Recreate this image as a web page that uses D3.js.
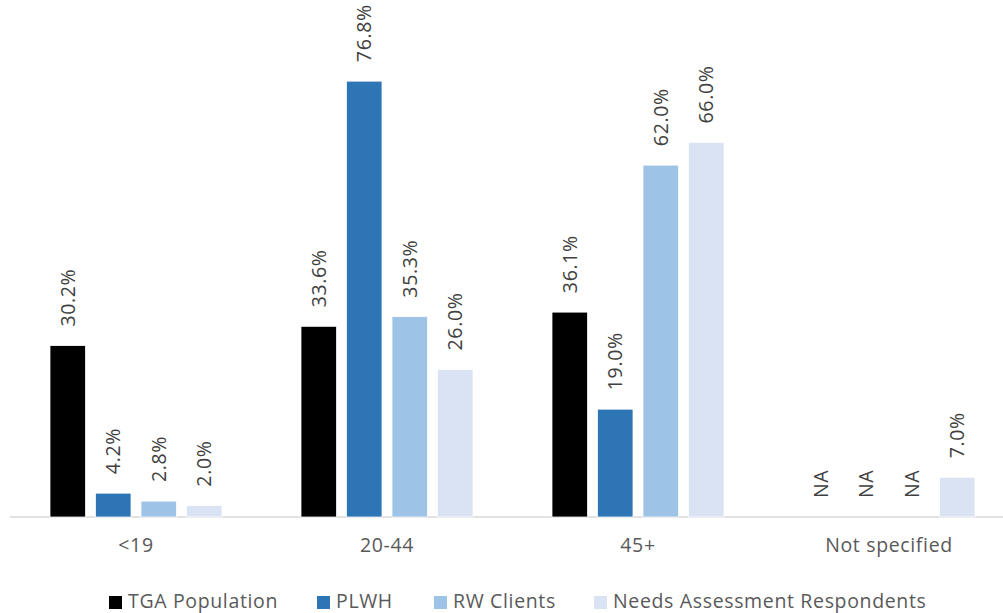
<!DOCTYPE html>
<html>
<head>
<meta charset="utf-8">
<script src="https://cdn.jsdelivr.net/npm/d3@7"></script>
<style>
  body { margin: 0; background: #fff; }
  svg text { font-family: "Open Sans", sans-serif; font-size: 19.5px; letter-spacing: 0.65px; }
</style>
</head>
<body>
<div id="chart"></div>
<script>
const categories = ['<19', '20-44', '45+', 'Not specified']
const seriesNames = ['TGA Population', 'PLWH', 'RW Clients', 'Needs Assessment Respondents']
const seriesColors = ['#000000', '#2E75B6', '#9DC3E6', '#DAE3F3']
// null means NA
const tgaPopulation = [30.2, 33.6, 36.1, null]
const plwh = [4.2, 76.8, 19.0, null]
const rwClients = [2.8, 35.3, 62.0, null]
const needsAssessment = [2.0, 26.0, 66.0, 7.0]

const series = [tgaPopulation, plwh, rwClients, needsAssessment]

const width = 1003, height = 613
const baseY = 517

const svg = d3.select('#chart').append('svg')
    .attr('width', width)
    .attr('height', height)

const x = d3.scaleBand()
    .domain(categories)
    .range([10.5, 1014.5])

const xs = d3.scaleBand()
    .domain(d3.range(series.length))
    .range([-91, 91])
    .paddingInner(0.22)
    .paddingOuter(0.11)

const y = d3.scaleLinear()
    .domain([0, 80])
    .range([baseY, baseY - 80 * 5.675])

// axis line
const xAxis = d3.axisBottom(x).tickSize(0).tickPadding(21)
const gx = svg.append('g')
    .attr('transform', `translate(0,${baseY})`)
    .call(xAxis)
gx.select('.domain').attr('stroke', '#d9d9d9').attr('stroke-width', 1.5)
    .attr('d', `M10,0H1003`)
gx.selectAll('text')
    .attr('fill', '#595959')
    .attr('font-size', null).attr('font-family', null)

const groups = svg.append('g').selectAll('g')
    .data(categories)
    .join('g')
    .attr('transform', d => `translate(${x(d) + x.bandwidth() / 2},0)`)

groups.each(function (cat, ci) {
    const g = d3.select(this)
    series.forEach((vals, si) => {
        const v = vals[ci]
        const bx = xs(si)
        if (v !== null) {
            g.append('rect')
                .attr('x', bx)
                .attr('width', xs.bandwidth())
                .attr('y', y(v))
                .attr('height', y(0) - y(v))
                .attr('fill', seriesColors[si])
                .attr('stroke', '#fff')
                .attr('stroke-width', 0.75)
        }
        const top = v !== null ? y(v) : y(0)
        g.append('text')
            .attr('transform', `translate(${bx + xs.bandwidth() / 2 + 7},${top - 19}) rotate(-90)`)
            .attr('fill', '#404040')
            .text(v !== null ? v.toFixed(1) + '%' : 'NA')
    })
})

// legend
const legendX = [109, 317, 434, 594]
const legend = svg.append('g').selectAll('g')
    .data(seriesNames)
    .join('g')
    .attr('transform', (d, i) => `translate(${legendX[i]},596)`)
legend.append('rect')
    .attr('width', 13).attr('height', 13)
    .attr('fill', (d, i) => seriesColors[i])
legend.append('text')
    .attr('x', 19).attr('y', 12)
    .attr('fill', '#595959')
    .text(d => d)
</script>
</body>
</html>
